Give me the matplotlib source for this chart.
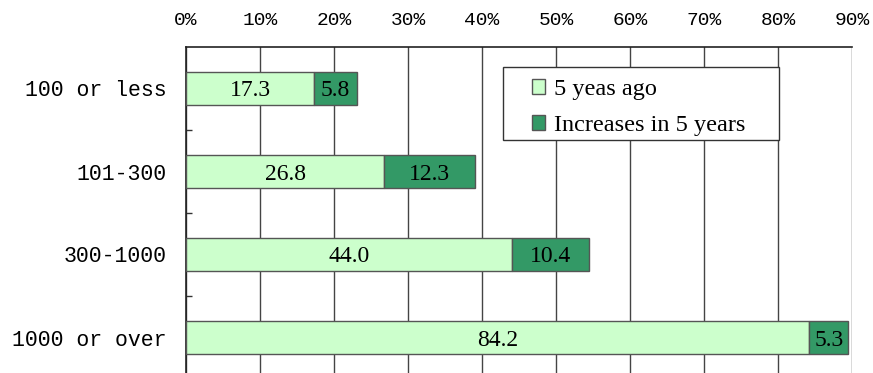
import matplotlib.pyplot as plt
from matplotlib.patches import Rectangle
from matplotlib.ticker import FixedLocator, FuncFormatter

categories = ["100 or less", "101-300", "300-1000", "1000 or over"]
five_years_ago = [17.3, 26.8, 44.0, 84.2]
increases = [5.8, 12.3, 10.4, 5.3]
x_ticks = [0, 10, 20, 30, 40, 50, 60, 70, 80, 90]

light = "#CCFFCC"
dark = "#339966"
edge = "#555555"

fig = plt.figure(figsize=(8.73, 3.73), dpi=100)
ax = fig.add_axes([186 / 873, -6 / 373, 666 / 873, 332 / 373])

ypos = list(range(len(categories)))
b1 = ax.barh(ypos, five_years_ago, height=0.4, color=light, edgecolor=edge,
             linewidth=1, label="5 yeas ago", zorder=3)
b2 = ax.barh(ypos, increases, left=five_years_ago, height=0.4, color=dark,
             edgecolor=edge, linewidth=1, label="Increases in 5 years", zorder=3)

serif = ["Liberation Serif", "DejaVu Serif"]
mono = ["Liberation Mono", "DejaVu Sans Mono"]
for bars in (b1, b2):
    for rect in bars:
        w = rect.get_width()
        ax.text(rect.get_x() + w / 2, rect.get_y() + rect.get_height() / 2,
                f"{w:.1f}", ha="center", va="center_baseline", fontsize=17,
                family=serif, zorder=4)

ax.set_xlim(0, 90)
ax.set_ylim(3.5, -0.5)
ax.xaxis.set_major_locator(FixedLocator(x_ticks))
ax.xaxis.set_major_formatter(FuncFormatter(lambda v, p: f"{v:.0f}%"))
ax.xaxis.tick_top()
ax.tick_params(axis="x", length=0, pad=13, labelsize=14)
for lab in ax.get_xticklabels():
    lab.set_family(mono)

ax.set_yticks(ypos)
ax.set_yticklabels(categories, family=mono, fontsize=15.5)
ax.tick_params(axis="y", which="major", length=0, pad=14)
ax.yaxis.set_minor_locator(FixedLocator([0.5, 1.5, 2.5]))
ax.tick_params(axis="y", which="minor", direction="in", length=4,
               width=1, color="#333333")

ax.grid(axis="x", color="#444444", linewidth=1, zorder=0)
for side in ("top", "left"):
    ax.spines[side].set_color("#222222")
    ax.spines[side].set_linewidth(1.2)
ax.spines["right"].set_visible(False)
ax.spines["bottom"].set_visible(False)

# legend box drawn separately so the padding can match the original
box = Rectangle((0.476, 0.72), 0.414, 0.22, transform=ax.transAxes,
                facecolor="white", edgecolor="#333333", linewidth=1, zorder=5)
ax.add_patch(box)
leg = ax.legend(loc="upper left", bbox_to_anchor=(0.519, 0.903),
                prop={"family": serif, "size": 17.5}, frameon=False,
                handlelength=0.55, handleheight=0.55, handletextpad=0.35,
                borderpad=0, labelspacing=0.62, borderaxespad=0)
leg.set_zorder(6)

fig.savefig("out.png", dpi=100)
